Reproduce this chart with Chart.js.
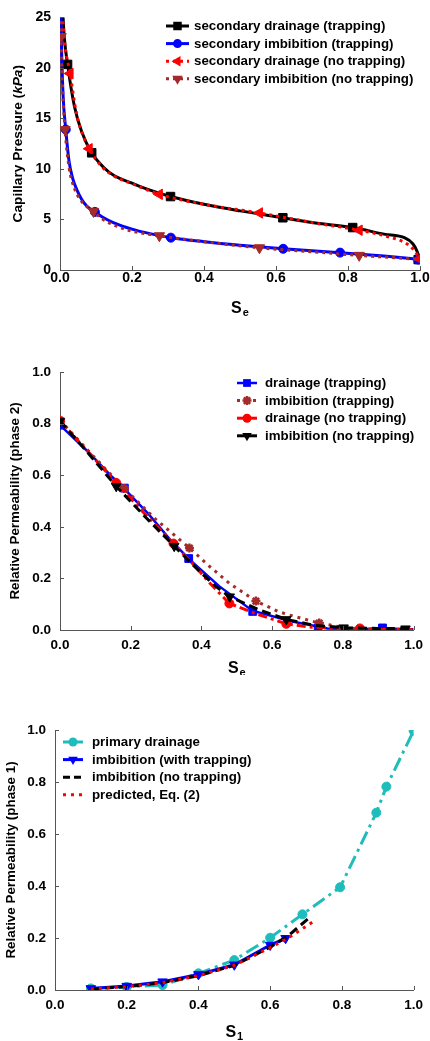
<!DOCTYPE html>
<html><head><meta charset="utf-8">
<script src="https://cdn.jsdelivr.net/npm/chart.js@4.4.0/dist/chart.umd.min.js"></script>
<style>
html,body{margin:0;padding:0;background:#fff;}
body{width:430px;height:1041px;position:relative;overflow:hidden;}
canvas{position:absolute;left:0;}
</style></head><body>
<canvas id="c1" width="430" height="325" style="top:0px"></canvas>
<canvas id="c2" width="430" height="345" style="top:330px"></canvas>
<canvas id="c3" width="430" height="361" style="top:680px"></canvas>
<script>
// ---------- Chart 1: capillary pressure ----------
const c1_se_drainT = [0.007,0.012,0.021,0.04,0.06,0.088,0.12,0.15,0.2,0.25,0.307,0.4,0.5,0.619,0.7,0.813,0.9,0.958,0.98,0.99,1.0];
const c1_pc_drainT = [26,23,20.35,16.2,13.7,11.6,10.2,9.35,8.6,7.9,7.27,6.5,5.85,5.17,4.7,4.2,3.55,3.17,2.6,2.0,1.05];
const c1_seM_drainT = [0.021,0.088,0.307,0.619,0.813,0.995];
const c1_pcM_drainT = [20.35,11.6,7.27,5.17,4.2,1.03];

const c1_se_imbT = [0.002,0.005,0.009,0.016,0.025,0.035,0.046,0.06,0.075,0.097,0.12,0.148,0.2,0.25,0.308,0.4,0.5,0.62,0.7,0.778,0.9,1.0];
const c1_pc_imbT = [26,21,17,13.9,10.8,9.1,8.0,7.0,6.3,5.75,5.2,4.7,4.05,3.6,3.2,2.8,2.45,2.1,1.9,1.7,1.38,1.05];
const c1_seM_imbT = [0.016,0.097,0.308,0.62,0.778,0.995];
const c1_pcM_imbT = [13.9,5.75,3.2,2.1,1.72,1.03];

const c1_se_drainN = [0.006,0.012,0.028,0.045,0.06,0.081,0.12,0.15,0.2,0.276,0.4,0.554,0.7,0.831,0.9,0.963,0.985,1.0];
const c1_pc_drainN = [26,22.8,19.45,15.6,13.7,12.0,10.1,9.3,8.55,7.49,6.5,5.65,4.7,3.94,3.4,2.6,1.9,1.05];
const c1_seM_drainN = [0.028,0.081,0.276,0.554,0.831,0.998];
const c1_pcM_drainN = [19.45,12.0,7.49,5.65,3.94,1.1];

const c1_se_imbN = [0.002,0.003,0.006,0.014,0.025,0.04,0.06,0.093,0.12,0.15,0.2,0.276,0.4,0.554,0.7,0.831,1.0];
const c1_pc_imbN = [26,23.1,19,13.9,10.2,8.1,6.8,5.8,5.0,4.45,3.85,3.39,2.8,2.2,1.8,1.45,1.05];
const c1_seM_imbN = [0.003,0.014,0.093,0.276,0.554,0.831];
const c1_pcM_imbN = [23.1,13.9,5.8,3.39,2.2,1.45];

const c1_labels = ['secondary drainage (trapping)','secondary imbibition (trapping)','secondary drainage (no trapping)','secondary imbibition (no trapping)'];

// ---------- Chart 2: relative permeability phase 2 ----------
const c2_se_drainT = [0,0.08,0.147,0.18,0.25,0.313,0.366,0.45,0.544,0.65,0.756,0.85,0.917,1.0];
const c2_kr_drainT = [0.794,0.69,0.594,0.55,0.45,0.348,0.274,0.17,0.075,0.035,0.006,0.004,0.006,0.003];
const c2_seM_drainT = [0,0.182,0.364,0.545,0.73,0.912];
const c2_krM_drainT = [0.794,0.55,0.277,0.072,0.008,0.008];

const c2_se_imbT = [0,0.09,0.182,0.27,0.366,0.42,0.479,0.554,0.62,0.664,0.733,0.8,0.85,0.9,1.0];
const c2_kr_imbT = [0.813,0.68,0.548,0.43,0.318,0.25,0.181,0.112,0.07,0.052,0.027,0.01,0.004,0.002,0.001];
const c2_seM_imbT = [0,0.182,0.366,0.554,0.733];
const c2_krM_imbT = [0.813,0.548,0.318,0.112,0.027];

const c2_se_drainN = [0,0.08,0.159,0.24,0.321,0.38,0.424,0.479,0.55,0.64,0.7,0.8,0.848,0.9,1.0];
const c2_kr_drainN = [0.81,0.69,0.57,0.45,0.335,0.25,0.181,0.103,0.065,0.024,0.012,0.005,0.006,0.002,0.001];
const c2_seM_drainN = [0,0.159,0.321,0.479,0.64,0.848];
const c2_krM_drainN = [0.81,0.57,0.335,0.103,0.024,0.006];

const c2_se_imbN = [0,0.08,0.159,0.24,0.323,0.4,0.44,0.48,0.56,0.64,0.72,0.802,0.9,0.977,1.0];
const c2_kr_imbN = [0.81,0.685,0.557,0.44,0.325,0.22,0.17,0.129,0.08,0.041,0.018,0.009,0.006,0.005,0.005];
const c2_seM_imbN = [0,0.159,0.323,0.48,0.64,0.802,0.977];
const c2_krM_imbN = [0.81,0.557,0.325,0.129,0.041,0.009,0.005];

const c2_labels = ['drainage (trapping)','imbibition (trapping)','drainage (no trapping)','imbibition (no trapping)'];

// ---------- Chart 3: relative permeability phase 1 ----------
const c3_s1_prim = [0.1,0.2,0.3,0.4,0.5,0.6,0.69,0.795,0.896,0.924,1.0];
const c3_kr_prim = [0.006,0.012,0.019,0.064,0.115,0.201,0.291,0.395,0.682,0.782,0.997];
const c3_s1_imbT = [0.1,0.2,0.3,0.4,0.5,0.6,0.643];
const c3_kr_imbT = [0.006,0.015,0.032,0.06,0.097,0.173,0.199];
const c3_s1_imbN = [0.1,0.2,0.3,0.4,0.5,0.6,0.65,0.715];
const c3_kr_imbN = [0.004,0.013,0.028,0.055,0.095,0.165,0.208,0.285];
const c3_s1_pred = [0.1,0.2,0.3,0.4,0.5,0.6,0.65,0.72];
const c3_kr_pred = [0.004,0.013,0.028,0.055,0.095,0.163,0.2,0.263];
const c3_labels = ['primary drainage','imbibition (with trapping)','imbibition (no trapping)','predicted, Eq. (2)'];

// ---------- helpers ----------
const FONT = '"Liberation Sans", Arial, Helvetica, sans-serif';
const pts = (xs, ys) => xs.map((v, k) => ({x: v, y: ys[k]}));

function drawMarker(ctx, style, x, y, r, rot, color) {
  if (!style) return;
  ctx.save(); ctx.translate(x, y); ctx.rotate(rot * Math.PI / 180);
  ctx.setLineDash([]);
  ctx.fillStyle = color; ctx.strokeStyle = color;
  ctx.beginPath();
  if (style === 'rect') { const s = r * Math.SQRT1_2; ctx.rect(-s, -s, 2 * s, 2 * s); ctx.fill(); }
  else if (style === 'circle') { ctx.arc(0, 0, r, 0, Math.PI * 2); ctx.fill(); }
  else if (style === 'triangle') { ctx.moveTo(0, -r); ctx.lineTo(r * 0.866, r * 0.5); ctx.lineTo(-r * 0.866, r * 0.5); ctx.closePath(); ctx.fill(); }
  else if (style === 'star') { ctx.lineWidth = 2.5; for (let k = 0; k < 4; k++) { const a = k * Math.PI / 4; ctx.moveTo(Math.cos(a) * r, Math.sin(a) * r); ctx.lineTo(-Math.cos(a) * r, -Math.sin(a) * r); } ctx.stroke(); }
  ctx.restore();
}

function makeChart(id, cfg) {
  const datasets = [];
  cfg.series.forEach((s, i) => {
    datasets.push({
      data: pts(s.lx, s.ly), borderColor: s.color, borderWidth: s.width, borderDash: s.dash || [],
      borderCapStyle: 'butt', pointRadius: 0, pointHoverRadius: 0, fill: false,
      tension: 0, cubicInterpolationMode: cfg.smooth ? 'monotone' : 'default', order: -(2 * i)
    });
    if (s.mx) datasets.push({
      data: pts(s.mx, s.my), showLine: false, pointStyle: s.marker, pointRadius: s.r, pointRotation: s.rot || 0,
      pointBackgroundColor: s.color, pointBorderColor: s.color, pointBorderWidth: s.marker === 'star' ? 2.5 : 1,
      order: -(2 * i + 1)
    });
  });
  const decor = {
    id: 'decor_' + id,
    afterDraw(chart) {
      const ctx = chart.ctx, a = chart.chartArea, xs = chart.scales.x, ys = chart.scales.y;
      ctx.save();
      ctx.strokeStyle = '#555'; ctx.lineWidth = 1; ctx.setLineDash([]);
      xs.ticks.forEach(t => { const p = Math.round(xs.getPixelForValue(t.value)) + 0.5; ctx.beginPath(); ctx.moveTo(p, a.bottom); ctx.lineTo(p, a.bottom - 4); ctx.stroke(); });
      ys.ticks.forEach(t => { const p = Math.round(ys.getPixelForValue(t.value)) + 0.5; ctx.beginPath(); ctx.moveTo(a.left, p); ctx.lineTo(a.left + 4, p); ctx.stroke(); });
      ctx.fillStyle = '#000';
      // x title with subscript
      ctx.textBaseline = 'alphabetic'; ctx.textAlign = 'left';
      ctx.font = 'bold 16px ' + FONT; const w1 = ctx.measureText(cfg.xMain).width;
      ctx.font = 'bold 11px ' + FONT; const w2 = ctx.measureText(cfg.xSub).width;
      const cx = (a.left + a.right) / 2, x0 = cx - (w1 + w2 + 1) / 2, base = cfg.xTitleY + 5.7;
      ctx.font = 'bold 16px ' + FONT; ctx.fillText(cfg.xMain, x0, base);
      ctx.font = 'bold 11px ' + FONT; ctx.fillText(cfg.xSub, x0 + w1 + 1, base + 3);
      // y title (rotated, mixed styles)
      ctx.save();
      ctx.translate(cfg.yTitleX, (a.top + a.bottom) / 2); ctx.rotate(-Math.PI / 2);
      ctx.textBaseline = 'middle';
      let tot = 0;
      cfg.yTitle.forEach(seg => { ctx.font = (seg.it ? 'italic ' : '') + 'bold ' + cfg.yTitleSize + 'px ' + FONT; tot += ctx.measureText(seg.t).width; });
      let px = -tot / 2;
      cfg.yTitle.forEach(seg => { ctx.font = (seg.it ? 'italic ' : '') + 'bold ' + cfg.yTitleSize + 'px ' + FONT; ctx.fillText(seg.t, px, 0); px += ctx.measureText(seg.t).width; });
      ctx.restore();
      // legend
      const L = cfg.legend;
      cfg.series.forEach((s, i) => {
        const y = L.y0 + i * L.dy;
        ctx.save();
        ctx.strokeStyle = s.color; ctx.lineWidth = s.width; ctx.setLineDash(s.legDash || s.dash || []); ctx.lineCap = 'butt';
        ctx.beginPath(); ctx.moveTo(L.x1, y); ctx.lineTo(L.x2, y); ctx.stroke();
        drawMarker(ctx, s.marker, (L.x1 + L.x2) / 2, y, s.r, s.rot || 0, s.color);
        ctx.restore();
        ctx.fillStyle = '#000'; ctx.font = 'bold 13.3px ' + FONT; ctx.textBaseline = 'middle'; ctx.textAlign = 'left';
        ctx.fillText(cfg.labels[i], L.tx, y + 0.5);
      });
      ctx.restore();
    }
  };
  const tickFont = {family: FONT, size: cfg.tickSize, weight: 'bold'};
  return new Chart(document.getElementById(id), {
    type: 'line',
    data: {datasets},
    options: {
      responsive: false, animation: false, events: [],
      layout: {padding: {top: cfg.top, right: cfg.right, left: 0, bottom: 0}},
      plugins: {legend: {display: false}, tooltip: {enabled: false}},
      scales: {
        x: {type: 'linear', min: 0, max: 1,
            ticks: {stepSize: 0.2, callback: v => v.toFixed(1), font: tickFont, color: '#000', padding: cfg.xPad, maxRotation: 0, autoSkip: false},
            grid: {display: false, drawTicks: false}, border: {display: true, color: '#555', width: 1},
            afterFit: s => { s.height = cfg.xh; }},
        y: {type: 'linear', min: 0, max: cfg.ymax,
            ticks: {stepSize: cfg.ystep, callback: cfg.yfmt, font: tickFont, color: '#000', padding: 9, autoSkip: false},
            grid: {display: false, drawTicks: false}, border: {display: true, color: '#555', width: 1},
            afterFit: s => { s.width = cfg.yw; }}
      }
    },
    plugins: [decor]
  });
}

const BROWN = '#a52a2a';

makeChart('c1', {
  smooth: true, top: 12, right: 10, yw: 60, xh: 55, xPad: 0, tickSize: 14,
  ymax: 25, ystep: 5, yfmt: v => String(v),
  xMain: 'S', xSub: 'e', xTitleY: 307, yTitleX: 18, yTitleSize: 13.7,
  yTitle: [{t: 'Capillary Pressure ('}, {t: 'kPa', it: true}, {t: ')'}],
  legend: {y0: 26, dy: 17.6, x1: 166, x2: 189, tx: 194},
  labels: c1_labels,
  series: [
    {lx: c1_se_drainT, ly: c1_pc_drainT, mx: c1_seM_drainT, my: c1_pcM_drainT, color: '#000', width: 3, marker: 'rect', r: 6},
    {lx: c1_se_imbT, ly: c1_pc_imbT, mx: c1_seM_imbT, my: c1_pcM_imbT, color: '#0000ff', width: 3, marker: 'circle', r: 4.5},
    {lx: c1_se_drainN, ly: c1_pc_drainN, mx: c1_seM_drainN, my: c1_pcM_drainN, color: '#ff0000', width: 3, dash: [3, 4], marker: 'triangle', rot: -90, r: 6},
    {lx: c1_se_imbN, ly: c1_pc_imbN, mx: c1_seM_imbN, my: c1_pcM_imbN, color: BROWN, width: 3, dash: [3, 4], marker: 'triangle', rot: 180, r: 6}
  ]
});

makeChart('c2', {
  smooth: false, top: 42, right: 8, yw: 60, xh: 45, xPad: 7, tickSize: 13.5,
  ymax: 1, ystep: 0.2, yfmt: v => v.toFixed(1),
  xMain: 'S', xSub: 'e', xTitleY: 337, yTitleX: 15, yTitleSize: 13.4,
  yTitle: [{t: 'Relative Permeability (phase 2)'}],
  legend: {y0: 53, dy: 17.6, x1: 237, x2: 257, tx: 265},
  labels: c2_labels,
  series: [
    {lx: c2_se_drainT, ly: c2_kr_drainT, mx: c2_seM_drainT, my: c2_krM_drainT, color: '#0000ff', width: 2.5, marker: 'rect', r: 5.5},
    {lx: c2_se_imbT, ly: c2_kr_imbT, mx: c2_seM_imbT, my: c2_krM_imbT, color: BROWN, width: 3, dash: [3, 5], marker: 'star', r: 4.5},
    {lx: c2_se_drainN, ly: c2_kr_drainN, mx: c2_seM_drainN, my: c2_krM_drainN, color: '#ff0000', width: 3, dash: [9, 4, 3, 4], legDash: [], marker: 'circle', r: 4.5},
    {lx: c2_se_imbN, ly: c2_kr_imbN, mx: c2_seM_imbN, my: c2_krM_imbN, color: '#000', width: 3, dash: [9, 5], legDash: [], marker: 'triangle', rot: 180, r: 5.5}
  ]
});

makeChart('c3', {
  smooth: false, top: 50, right: 13, yw: 55, xh: 51, xPad: 7, tickSize: 13.5,
  ymax: 1, ystep: 0.2, yfmt: v => v.toFixed(1),
  xMain: 'S', xSub: '1', xTitleY: 351, yTitleX: 11, yTitleSize: 13.4,
  yTitle: [{t: 'Relative Permeability (phase 1)'}],
  legend: {y0: 62, dy: 17.6, x1: 63, x2: 83, tx: 92},
  labels: c3_labels,
  series: [
    {lx: c3_s1_prim, ly: c3_kr_prim, mx: c3_s1_prim, my: c3_kr_prim, color: '#1fbcbc', width: 3, dash: [14, 5, 3, 5], legDash: [], marker: 'circle', r: 4.5},
    {lx: c3_s1_imbT, ly: c3_kr_imbT, mx: c3_s1_imbT, my: c3_kr_imbT, color: '#0000ff', width: 3, marker: 'triangle', rot: 180, r: 5.5},
    {lx: c3_s1_imbN, ly: c3_kr_imbN, color: '#000', width: 3, dash: [9, 5], legDash: [7, 4]},
    {lx: c3_s1_pred, ly: c3_kr_pred, color: '#ff0000', width: 3, dash: [3, 5]}
  ]
});
</script>
</body></html>
